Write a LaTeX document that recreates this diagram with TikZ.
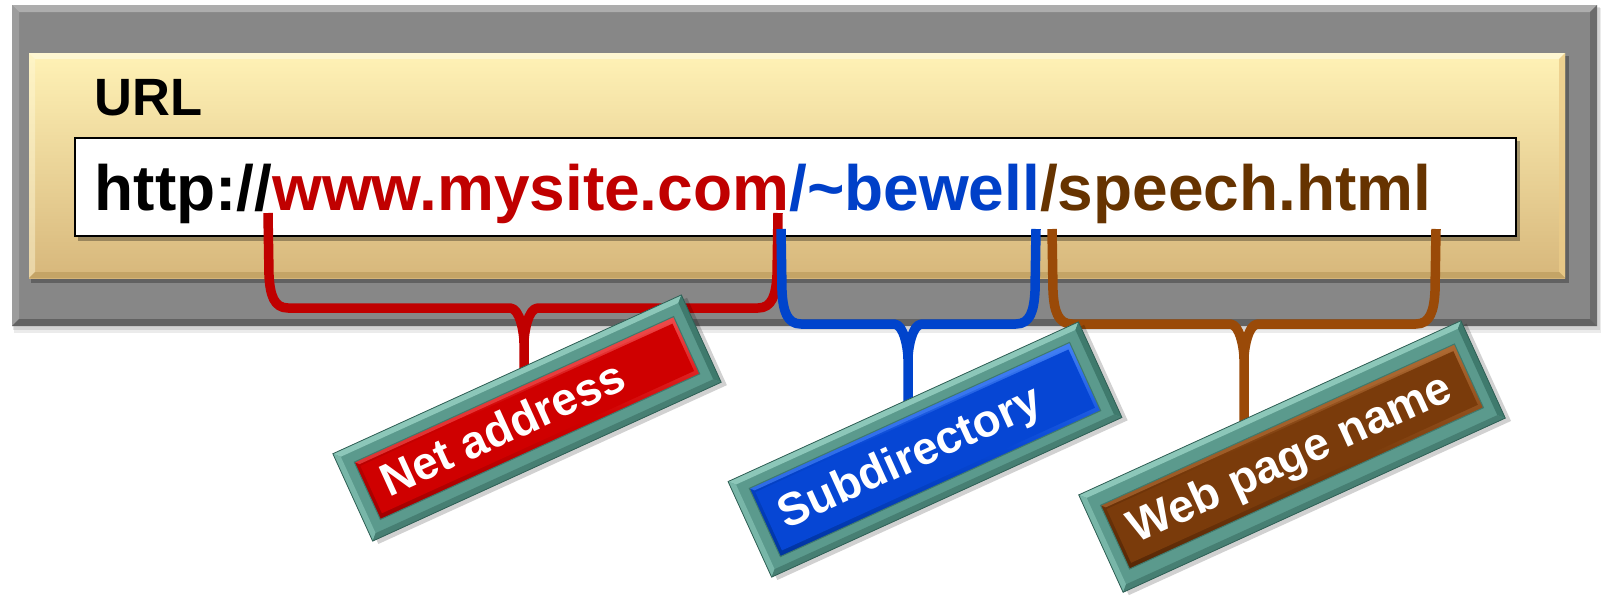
\documentclass[tikz,border=0pt]{standalone}
\usepackage{fontspec}
\setmainfont{Liberation Sans}
\usetikzlibrary{calc}
\definecolor{grayface}{HTML}{878787}
\definecolor{grayT}{HTML}{ADADAD}
\definecolor{grayLft}{HTML}{9C9C9C}
\definecolor{grayR}{HTML}{6C6C6C}
\definecolor{grayB}{HTML}{626262}
\definecolor{yelT}{HTML}{FFF2B6}
\definecolor{yelM}{HTML}{FFE49C}
\definecolor{yelB}{HTML}{D7B77B}
\definecolor{yelHi}{HTML}{FFF9DA}
\definecolor{yelR}{HTML}{EBCB88}
\definecolor{yelBot}{HTML}{C4A466}
\definecolor{txtred}{HTML}{C00000}
\definecolor{txtblue}{HTML}{0040C8}
\definecolor{txtbrown}{HTML}{663300}
\definecolor{braceRed}{HTML}{C00000}
\definecolor{braceBlue}{HTML}{0044CC}
\definecolor{braceBrown}{HTML}{9A4A08}
\definecolor{tealM}{HTML}{5B9A8D}
\definecolor{tealL}{HTML}{8CC7B9}
\definecolor{tealL2}{HTML}{78B6A8}
\definecolor{tealD}{HTML}{3F7A6D}
\definecolor{tealD2}{HTML}{477F73}
\definecolor{tealO}{HTML}{2F5F55}
\definecolor{lblred}{HTML}{CF0000}
\definecolor{lblredL}{HTML}{EE4A4A}
\definecolor{lblredD}{HTML}{A00000}
\definecolor{lblblue}{HTML}{0646D4}
\definecolor{lblblueL}{HTML}{427FF4}
\definecolor{lblblueD}{HTML}{0034A0}
\definecolor{lblbrown}{HTML}{7A3B0B}
\definecolor{lblbrownL}{HTML}{AE6A33}
\definecolor{lblbrownD}{HTML}{582806}
\tikzset{
  bracepath/.style={line width=9.5pt, line join=round, line cap=butt},
  tagframe/.style={fill=tealM, inner sep=0pt, transform shape},
  tagtext/.style={anchor=base west, inner sep=0pt, text=white,
    font=\fontsize{46}{50}\selectfont\bfseries, transform shape},
}
% #1 name, #2 centre, #3 half width, #4 half height, #5 inner half width,
% #6 inner half height, #7 colour prefix, #8 text
\newcommand\tagbox[8]{%
\begin{scope}[shift={#2},rotate=24.5]
\fill[black,opacity=.18] (-#3+4,-#4+5) rectangle (#3+4,#4+5);
\node[tagframe, minimum width=2*#3, minimum height=2*#4] (#1) at (0,0) {};
\fill[tealL] (-#3,-#4) -- (#3,-#4) -- (#3-6,-#4+6) -- (-#3+6,-#4+6) -- cycle;
\fill[tealL2] (-#3,-#4) -- (-#3+6,-#4+6) -- (-#3+6,#4-6) -- (-#3,#4) -- cycle;
\fill[tealD] (#3,-#4) -- (#3,#4) -- (#3-6,#4-6) -- (#3-6,-#4+6) -- cycle;
\fill[tealD2] (-#3,#4) -- (#3,#4) -- (#3-6,#4-6) -- (-#3+6,#4-6) -- cycle;
\draw[tealO, line width=.8pt] (-#3,-#4) rectangle (#3,#4);
\shade[top color=#7L, bottom color=#7D, middle color=#7] (-#5,-#6) rectangle (#5,#6);
\fill[#7] (-#5+4,-#6+6) rectangle (#5-4,#6-5);
\fill[#7L, opacity=.7] (-#5,-#6) -- (#5,-#6) -- (#5-4,-#6+4) -- (-#5+4,-#6+4) -- cycle;
\draw[tealD, line width=1pt] (-#5,-#6) rectangle (#5,#6);
\node[tagtext] (#1txt) at (-#5+17,15) {#8};
\end{scope}}
% #1 colour, #2 left end, #3 right end, #4 tip, #5 box
\newcommand\bracedraw[5]{%
\draw[bracepath,#1] (#2) -- ++(1,62) .. controls +(1,20) and +(-14,0) .. ($(#2|-#4)+(20,0)$)
  -- ($(#4)+(-14,0)$) .. controls +(10,0) and +(0,-10) .. ($(#4)+(0,35)$) -- (#4|-#5.center);
\draw[bracepath,#1] (#3) -- ++(-1,62) .. controls +(-1,20) and +(14,0) .. ($(#3|-#4)+(-20,0)$)
  -- ($(#4)+(14,0)$) .. controls +(-10,0) and +(0,-10) .. ($(#4)+(0,35)$);
}
\begin{document}
\begin{tikzpicture}[x=1pt,y=-1pt]
\useasboundingbox (0,0) rectangle (1601,595);
\fill[white] (0,0) rectangle (1601,595);
% outer grey panel
\fill[black,opacity=.08] (14,8) rectangle (1601,333);
\fill[black,opacity=.10] (13,7) rectangle (1600,330);
\fill[grayface] (12,5) rectangle (1597,326);
\fill[grayT] (12,5) -- (1597,5) -- (1590,12) -- (19,12) -- cycle;
\fill[grayLft] (12,5) -- (19,12) -- (19,319) -- (12,326) -- cycle;
\fill[grayR] (1597,5) -- (1597,326) -- (1590,319) -- (1590,12) -- cycle;
\fill[grayB] (12,326) -- (1597,326) -- (1590,319) -- (19,319) -- cycle;
% yellow panel
\fill[black,opacity=.28] (31,56) rectangle (1569,283);
\shade[top color=yelT, middle color=yelM, bottom color=yelB] (29,53) rectangle (1565,278);
\fill[yelHi,opacity=.8] (29,53) -- (1565,53) -- (1559,59) -- (35,59) -- cycle;
\fill[yelHi,opacity=.45] (29,53) -- (35,59) -- (35,272) -- (29,278) -- cycle;
\fill[yelR,opacity=.8] (1565,53) -- (1565,278) -- (1559,272) -- (1559,59) -- cycle;
\fill[yelBot] (29,278) -- (1565,278) -- (1559,272) -- (35,272) -- cycle;
% white field
\fill[black,opacity=.3] (78,141) rectangle (1520,241);
\draw[black, line width=2.5pt, fill=white] (75,138) rectangle (1516,236);
\node[anchor=base west, inner sep=0pt, font=\fontsize{52.5}{58}\selectfont\bfseries] (urllbl) at (94,115) {URL};
\node[anchor=base west, inner sep=0pt, font=\fontsize{64}{70}\selectfont\bfseries] (url) at (94.5,210)
  {http://\textcolor{txtred}{www.mysite.com}\textcolor{txtblue}{/\textasciitilde bewell}\textcolor{txtbrown}{/speech.html}};
% brace end points
\coordinate (rL) at (268,213); \coordinate (rR) at (778,213); \coordinate (rT) at (524,308);
\coordinate (bL) at (781,229); \coordinate (bR) at (1036,229); \coordinate (bT) at (908,324);
\coordinate (wL) at (1052,229); \coordinate (wR) at (1436,229); \coordinate (wT) at (1244,324);
% label anchors (centres)
\coordinate (netc) at (527,418);
\coordinate (subc) at (925,449.5);
\coordinate (webc) at (1292,456.5);
\path (netc) node[minimum size=1pt, inner sep=0pt] (netbox) {};
\path (subc) node[minimum size=1pt, inner sep=0pt] (subbox) {};
\path (webc) node[minimum size=1pt, inner sep=0pt] (webbox) {};
\bracedraw{braceRed}{rL}{rR}{rT}{netbox}
\bracedraw{braceBlue}{bL}{bR}{bT}{subbox}
\bracedraw{braceBrown}{wL}{wR}{wT}{webbox}
% labels
\tagbox{nettag}{(netc)}{191.5}{48}{175.5}{31.5}{lblred}{Net address}
\tagbox{subtag}{(subc)}{192.5}{52.5}{176}{37.5}{lblblue}{Subdirectory}
\tagbox{webtag}{(webc)}{210}{53.5}{194.5}{35}{lblbrown}{Web page name}
\end{tikzpicture}
\end{document}
